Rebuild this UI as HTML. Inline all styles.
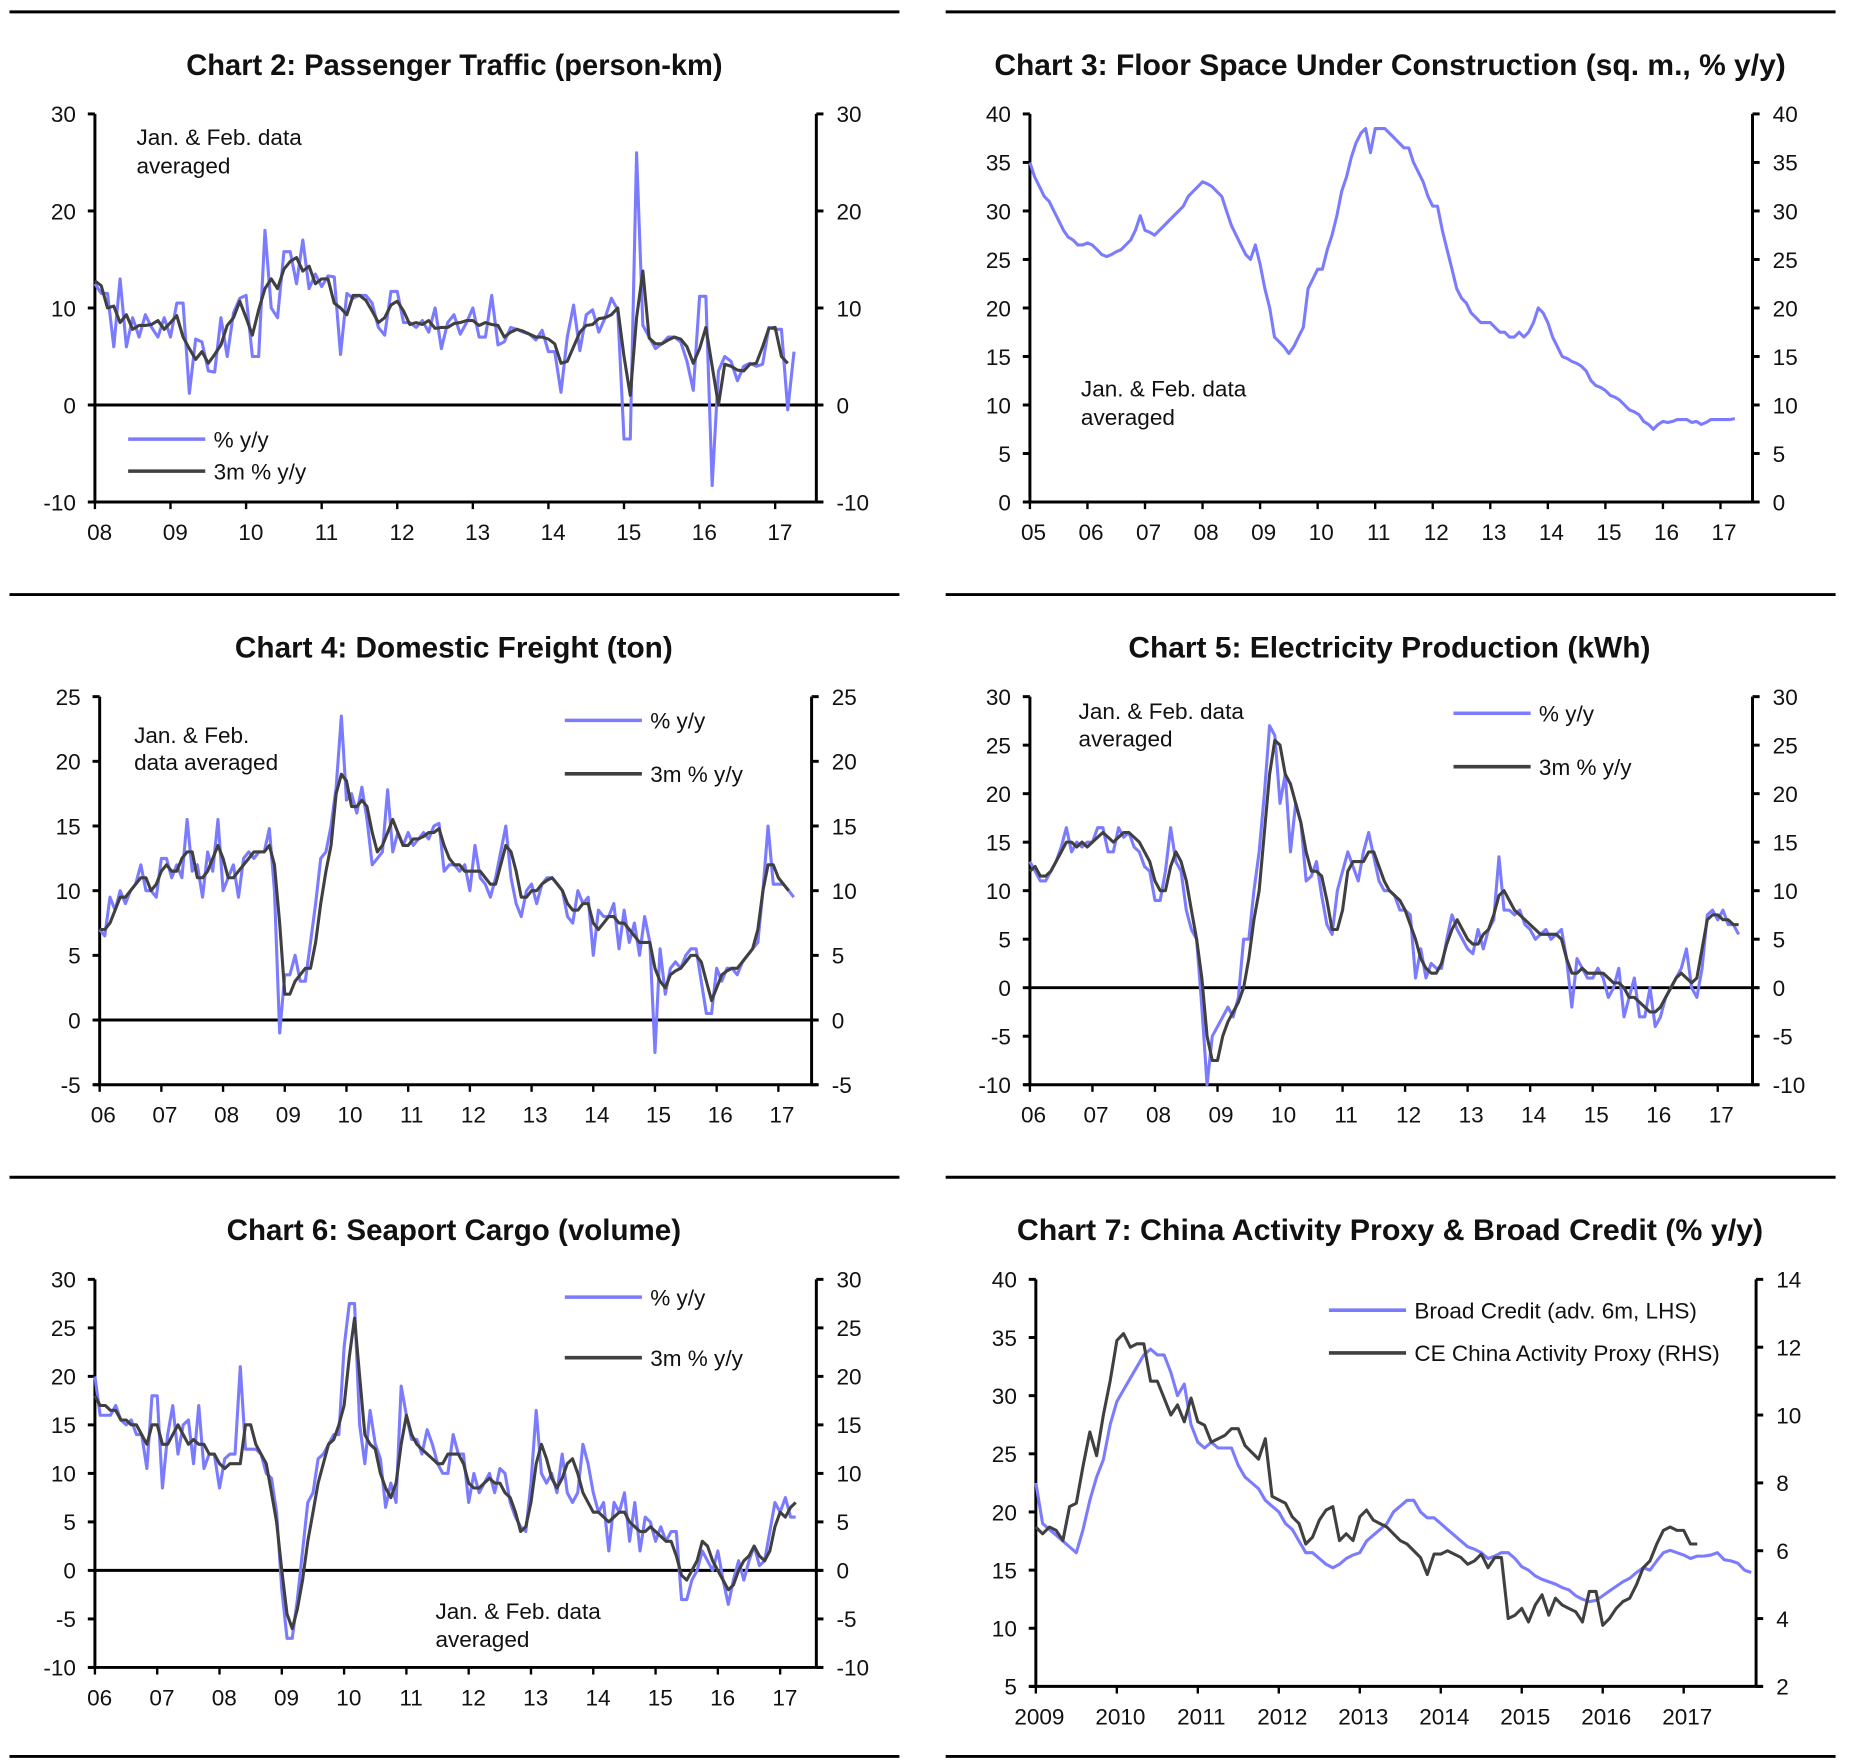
<!DOCTYPE html>
<html><head><meta charset="utf-8"><style>
html,body{margin:0;padding:0;background:#fff;}
svg{display:block;}
text{font-family:"Liberation Sans",sans-serif;fill:#111;}
</style></head><body>
<svg id="root" width="1851" height="1760" viewBox="0 0 1560 1483" preserveAspectRatio="none" xmlns="http://www.w3.org/2000/svg"></svg>
<script>
// ---- Chart 2: Passenger traffic (start 2008-01, monthly)
const c2Yoy=[12.5,11.5,11.5,6,13,6,9,7,9.3,8,7,9, 7,10.5,10.5,1.2,6.8,6.5,3.5,3.4,9,5,9.5,11, 11.3,5,5,18,10,9,15.8,15.8,12.5,17,12,13.5, 12.2,13.3,13.2,5.2,11.5,11,11.3,11.3,10.5,8,7.2,11.7, 11.7,8.5,8.5,8,8.7,7.5,10,5.8,8.5,9.3,7.3,8.5, 10,7,7,11.3,6.2,6.5,8,7.8,7.5,7.3,6.7,7.7, 5.5,5.5,1.3,7,10.3,5.6,9.3,9.8,7.5,9,11,9.8, -3.5,-3.5,26,8.2,7,5.8,6.3,7,7,6.5,4.5,1.5, 11.2,11.2,-8.3,3.5,5,4.5,2.5,4,4.3,4,4.2,8, 7.8,7.8,-0.5,5.5];
const c2ThreeM=[12.8,12.3,10,10.2,8.5,9.3,7.8,8.2,8.2,8.3,8.7,7.8, 8.5,9.2,7,5.8,4.7,5.5,4.3,5.2,6.2,8.2,9,10.7, 9,7.2,9.8,12,13,12,14,14.8,15.2,13.8,14.3,12.5, 13,13,10.5,10,9.3,11.3,11.3,10.8,9.7,8.5,9,10.3, 10.7,9.7,8.3,8.5,8.3,8.7,7.9,8,8,8.4,8.5,8.7, 8.7,8.2,8.5,8.3,8.2,7,7.5,7.8,7.6,7.3,7,7, 6.8,6.3,4.3,4.5,6,7.5,8.2,8.3,8.9,9,9.3,10, 5,1,9,13.8,6.9,6.3,6.3,6.7,7,6.8,6,4.3, 5.8,8,4,0,4.2,4,3.6,3.5,4.2,4.3,6,7.9, 8,5,4.3];
const c2YTicks=[-10,0,10,20,30];
const c2XLabels=["08","09","10","11","12","13","14","15","16","17"];
// ---- Chart 3: Floor space (start 2005-01)
const c3Yoy=[35,33.5,32.5,31.5,31,30,29,28,27.3,27,26.5,26.5, 26.7,26.5,26,25.5,25.3,25.5,25.8,26,26.5,27,28,29.5, 28,27.8,27.5,28,28.5,29,29.5,30,30.5,31.5,32,32.5, 33,32.8,32.5,32,31.5,30,28.5,27.5,26.5,25.5,25,26.5, 24.5,22,20,17,16.5,16,15.3,16,17,18,22,23, 24,24,26,27.5,29.5,32,33.5,35.5,37,38,38.5,36, 38.5,38.5,38.5,38,37.5,37,36.5,36.5,35,34,33,31.5, 30.5,30.5,28,26,24,22,21,20.5,19.5,19,18.5,18.5, 18.5,18,17.5,17.5,17,17,17.5,17,17.5,18.5,20,19.5, 18.5,17,16,15,14.8,14.5,14.3,14,13.5,12.5,12,11.8, 11.5,11,10.8,10.5,10,9.5,9.3,9,8.3,8,7.5,8, 8.3,8.2,8.3,8.5,8.5,8.5,8.2,8.3,8,8.2,8.5,8.5, 8.5,8.5,8.5,8.6];
const c3YTicks=[0,5,10,15,20,25,30,35,40];
const c3XLabels=["05","06","07","08","09","10","11","12","13","14","15","16","17"];
// ---- Chart 4: Domestic freight (start 2006-01)
const c4Yoy=[7,6.5,9.5,8.5,10,9,10,10.5,12,10,10,9.5, 12.5,12.5,11,12,11,15.5,11.5,12,9.5,13,11.5,15.5, 10,11,12,9.5,12.5,13,12.5,13,13,14.8,10,-1, 3.5,3.5,5,3,3,6,9,12.5,13,15,18,23.5, 17,17.5,16,18,15.5,12,12.5,13,17.8,13,14.5,13.5, 14.5,13.5,14,14.5,14,15,15.2,11.5,12,12,11.5,12, 10,13.5,11,10.5,9.5,11,13,15,11,9,8,10, 10.5,9,10.5,11,11,10.5,10,8,7.5,10,9,9.5, 5,8.5,8,8,9,5.5,8.5,6,7.5,5,8,6, -2.5,5.5,2,4,4.5,4,5,5.5,5.5,3,0.5,0.5, 4,3,4,4,3.5,4.5,5,5.5,6,10,15,10.5, 10.5,10.5,10,9.5];
const c4ThreeM=[7,7,7.5,8.5,9.5,9.5,10,10.5,11,11,10,10.5, 11.5,12,11.5,11.5,12.5,13,13,11,11,11.5,12.5,13.5, 12.5,11,11,11.5,12,12.5,13,13,13,13.5,12,7.5, 2,2,3,3.5,4,4,6,9,11.5,13.5,17.5,19, 18.5,16.5,16.5,17,16.5,14.5,13,13.5,14.5,15.5,14.5,13.5, 13.5,14,14,14.2,14.5,14.5,14.8,13.5,12.5,12,12,11.5, 11.5,11.5,11.5,11,10.5,10.5,12,13.5,13,11.5,9.5,9.5, 10,10,10.5,10.8,11,10.5,10,9,8.5,8.5,9,9, 7.5,7,7.5,8,8,7.5,7.5,7,6.5,6,6,6, 4,3,2.5,3.5,3.8,4,4.5,5,5,4.5,3,1.5, 2.5,3.5,3.8,4,4,4.5,5,5.5,7,10,12,12, 11,10.5,10];
const c4YTicks=[-5,0,5,10,15,20,25];
const c4XLabels=["06","07","08","09","10","11","12","13","14","15","16","17"];
// ---- Chart 5: Electricity (start 2006-01)
const c5Yoy=[13,12,11,11,12,13,14.5,16.5,14,15,14.5,15, 15,16.5,16.5,14,14,16.5,15.5,16,14.5,14,12.5,12, 9,9,12,16.5,13,12,8,6,5,-2,-10,-5, -4,-3,-2,-3,-1,5,5,10,14,20,27,26, 19,22,14,19,17,11,11.5,13,9.5,6.5,5.5,10, 12,14,12.5,11,14,16,13.5,11,10,10,9.5,8, 8,7.5,1,4,1,2.5,2,2,5,7.5,6,5, 4,3.5,6,4,6,7,13.5,8,8,7.5,8,6.5, 6,5,5.5,6,5,5.5,6,3,-2,3,2,1, 1,2,1,-1,0,2,-3,-1,1,-3,-3,0, -4,-3,-1,0,1,2,4,0,-1,2,7.5,8, 7,8,6.5,6.5,5.5];
const c5ThreeM=[12,12.5,11.5,11.5,12,13,14,15,15,14.5,15,14.5, 15,15.5,16,15.5,15,15.5,16,16,15.5,15,14,13, 11,10,10,12.5,14,13,11,8,5,1,-5,-7.5, -7.5,-5,-3.5,-2.5,-1.5,0,3,7,10,16,22,25.5, 25,22,21,19,17,14,12,12,11.5,9,6,6, 8,12,13,13,13,14,14,12.5,11,10,9.5,9, 8,6.5,5,3,2,1.5,1.5,2.5,4.5,6,7,6, 5,4.5,4.5,5.5,6,7.5,9.5,10,9,8,7.5,7, 6.5,6,5.5,5.5,5.5,5.5,5,3,1.5,1.5,2,1.5, 1.5,1.5,1.5,1,0.5,0.5,0,-1,-1,-1.5,-2,-2.5, -2.5,-2,-1,0,1,1.5,1,0.5,1,4,7,7.5, 7.5,7,7,6.5,6.5];
const c5YTicks=[-10,-5,0,5,10,15,20,25,30];
const c5XLabels=["06","07","08","09","10","11","12","13","14","15","16","17"];
// ---- Chart 6: Seaport cargo (start 2006-01)
const c6Yoy=[20,16,16,16,17,15.5,15,15.5,14,14,10.5,18, 18,8.5,14,17,12,15,15.5,11,17,10.5,12,12, 8.5,11.5,12,12,21,12.5,12.5,12.5,12,10,9.5,6, -2,-7,-7,-3,2,7,8,11.5,12,13,14,14, 23,27.5,27.5,15,11,16.5,13,11.5,6.5,9,7,19, 16,13.5,13.5,12,14.5,13,11,10,10,14,12,12, 7,10,8,9,10,8,10.5,10,7,5.5,4.5,4, 9,16.5,10,9,10,8,12,8,7,8,13,11, 8,6,7,2,7,6,8,3,7,2,5.5,5, 3,4.5,3,4,4,-3,-3,-1,0,2,1,0, 2,-1,-3.5,-1,1,-1,1,2.5,0.5,1,4,7, 6,7.5,5.5,5.5];
const c6ThreeM=[18,17,17,16.5,16.5,15.5,15.5,15,15,14,13,15, 15,13,13,14,15,14,13,13.5,13,13,12,12, 11,10.5,11,11,11,15,15,13,12,11,8,5, 0,-4.5,-6,-4,-1,3,6,9,11,13,13.5,15, 17,22,26,20,14,13,12.5,10,8.5,7.5,9,13, 16,14,13,12.5,12,11.5,11,11,12,12,12,11, 9,8.5,8.5,9,9.5,9,9,8,7.5,6,4,4.5, 7,11,13,11.5,9.5,8.5,9.5,11,11.5,10,8,7, 6,6,5.5,5,5.5,6,6,5,4.5,4,4,4.5, 4,3.5,3,3,1.5,-0.5,-1,0,1,3,2.5,1, 0,-1,-2,-1.5,0,1,1.5,2.5,1.5,1,2,4.5, 6,5.5,6.5,7];
const c6YTicks=[-10,-5,0,5,10,15,20,25,30];
const c6XLabels=["06","07","08","09","10","11","12","13","14","15","16","17"];
// ---- Chart 7: Broad credit (LHS) & activity proxy (RHS), start 2009-01
const c7Credit=[22.5,19,18.5,18,17.5,17,16.5,18.5,21,23,24.5,27.5, 29.5,30.5,31.5,32.5,33.5,34,33.5,33.5,32,30,31,27.5, 26,25.5,26,25.5,25.5,25.5,24,23,22.5,22,21,20.5, 20,19,18.5,17.5,16.5,16.5,16,15.5,15.2,15.5,16,16.3, 16.5,17.5,18,18.5,19,20,20.5,21,21,20,19.5,19.5, 19,18.5,18,17.5,17,16.8,16.5,16,16.2,16.5,16.5,16, 15.3,15,14.5,14.2,14,13.8,13.5,13.3,12.8,12.5,12.3,12.4, 12.8,13.2,13.6,14,14.3,14.8,15.2,15,15.8,16.5,16.7,16.5, 16.3,16,16.2,16.2,16.3,16.5,15.9,15.8,15.6,15,14.8];
const c7Proxy=[6.7,6.5,6.7,6.6,6.3,7.3,7.4,8.5,9.5,8.8,10,11, 12.2,12.4,12,12.1,12.1,11,11,10.5,10,10.3,9.8,10.5, 9.8,9.7,9.2,9.3,9.4,9.6,9.6,9.1,8.9,8.7,9.3,7.6, 7.5,7.4,7,6.8,6.2,6.4,6.9,7.2,7.3,6.3,6.5,6.3, 7,7.2,6.9,6.8,6.7,6.5,6.3,6.2,6,5.8,5.3,5.9, 5.9,6,5.9,5.8,5.6,5.7,5.9,5.5,5.8,5.8,4,4.1, 4.3,3.9,4.4,4.7,4.1,4.6,4.4,4.3,4.2,3.9,4.8,4.8, 3.8,4,4.3,4.5,4.6,5,5.5,5.7,6.2,6.6,6.7,6.6, 6.6,6.2,6.2];
const c7YTicksL=[5,10,15,20,25,30,35,40];
const c7YTicksR=[2,4,6,8,10,12,14];
const c7XLabels=["2009","2010","2011","2012","2013","2014","2015","2016","2017"];
</script>
<script>
const NS="http://www.w3.org/2000/svg";
const root=document.getElementById('root');
const BLUE="#7b7bff", GRAY="#404040";
function mk(tag,attrs,parent){const e=document.createElementNS(NS,tag);for(const k in attrs)e.setAttribute(k,attrs[k]);(parent||root).appendChild(e);return e;}
function txt(s,attrs,parent){const t=mk('text',attrs,parent);t.textContent=s;return t;}

function drawChart(cfg){
  const g=mk('g',{});
  
  
  const ys=v=>cfg.yTop+(cfg.yMax-v)/(cfg.yMax-cfg.yMin)*(cfg.yBot-cfg.yTop);
  const ys2=cfg.r?(v=>cfg.yTop+(cfg.r.max-v)/(cfg.r.max-cfg.r.min)*(cfg.yBot-cfg.yTop)):ys;
  const xs=m=>cfg.x0+m/12*cfg.yr;
  const t=txt(cfg.title,{x:cfg.titleX,y:cfg.titleY,'font-size':25,'font-weight':'bold','text-anchor':'start',textLength:cfg.titleW,lengthAdjust:'spacingAndGlyphs'},g);
  
  
  // axes
  const la=mk('line',{x1:cfg.x0,y1:cfg.yTop,x2:cfg.x0,y2:cfg.yBot,stroke:'#000','stroke-width':2.5},g);
  
  
  const ra=mk('line',{x1:cfg.x1,y1:cfg.yTop,x2:cfg.x1,y2:cfg.yBot,stroke:'#000','stroke-width':2.5},g);
  
  
  const xa=mk('line',{x1:cfg.x0-5,y1:cfg.yBot,x2:cfg.x1+5,y2:cfg.yBot,stroke:'#000','stroke-width':2.5},g);
  
  
  cfg.yTicks.forEach(v=>{
    const y=ys(v);
    mk('line',{x1:cfg.x0-6,y1:y,x2:cfg.x0,y2:y,stroke:'#000','stroke-width':2.5},g);
    const l=txt(String(v),{x:cfg.x0-16,y:y+7,'font-size':19,'text-anchor':'end'},g);
    
    
  });
  (cfg.r?cfg.r.ticks:cfg.yTicks).forEach(v=>{
    const y=ys2(v);
    mk('line',{x1:cfg.x1,y1:y,x2:cfg.x1+6,y2:y,stroke:'#000','stroke-width':2.5},g);
    const l=txt(String(v),{x:cfg.x1+17,y:y+7,'font-size':19,'text-anchor':'start'},g);
    
    
  });
  cfg.xLabels.forEach((s,i)=>{
    const x=cfg.x0+i*cfg.yr;
    mk('line',{x1:x,y1:cfg.yBot,x2:x,y2:cfg.yBot+6,stroke:'#000','stroke-width':2},g);
    const l=txt(s,{x:x+cfg.lblOff,y:cfg.yBot+32,'font-size':19,'text-anchor':'middle'},g);
    
    
  });
  if(cfg.zero){
    const z=mk('line',{x1:cfg.x0,y1:ys(0),x2:cfg.x1+5,y2:ys(0),stroke:'#000','stroke-width':2.5},g);
    
    
  }
  cfg.series.forEach(s=>{
    const f=s.right?ys2:ys;
    const d=s.data.map((v,i)=>(i?'L':'M')+xs(i).toFixed(1)+','+f(v).toFixed(1)).join('');
    const p=mk('path',{d:d,fill:'none',stroke:s.color,'stroke-width':2.6,'stroke-linejoin':'round'},g);
    
    
  });
  (cfg.legend||[]).forEach(L=>{
    const lg=mk('g',{},g);
    
    
    mk('line',{x1:L.x,y1:L.y,x2:L.x+65,y2:L.y,stroke:L.color,'stroke-width':3},lg);
    txt(L.label,{x:L.x+72,y:L.y+7,'font-size':19},lg);
  });
  (cfg.notes||[]).forEach(N=>{
    const n=txt(N.s,{x:N.x,y:N.y,'font-size':19},g);
    
    
  });
}

// separators
[[10,8,758],[10,797,1547],[501,8,758],[501,797,1547],[992,8,758],[992,797,1547],[1480,8,758],[1480,797,1547]].forEach(a=>{
  const l=mk('line',{x1:a[1],y1:a[0],x2:a[2],y2:a[0],stroke:'#000','stroke-width':2.5});
  
  
});

drawChart({name:'chart2-passenger-traffic',title:'Chart 2: Passenger Traffic (person-km)',titleX:157,titleY:63,titleW:452,
  x0:80,x1:688,yTop:96,yBot:423,yMin:-10,yMax:30,yr:63.7,lblOff:4,yTicks:c2YTicks,xLabels:c2XLabels,zero:true,
  series:[{name:'series-yoy',data:c2Yoy,color:BLUE},{name:'series-3m-yoy',data:c2ThreeM,color:GRAY}],
  legend:[{x:108,y:370,color:BLUE,label:'% y/y'},{x:108,y:397,color:GRAY,label:'3m % y/y'}],
  notes:[{s:'Jan. & Feb. data',x:115,y:122},{s:'averaged',x:115,y:146}]});
drawChart({name:'chart3-floor-space',title:'Chart 3: Floor Space Under Construction (sq. m., % y/y)',titleX:838,titleY:63,titleW:667,
  x0:868,x1:1477,yTop:96,yBot:423,yMin:0,yMax:40,yr:48.5,lblOff:3,yTicks:c3YTicks,xLabels:c3XLabels,zero:false,
  series:[{name:'series-yoy',data:c3Yoy,color:BLUE}],
  notes:[{s:'Jan. & Feb. data',x:911,y:334},{s:'averaged',x:911,y:358}]});
drawChart({name:'chart4-domestic-freight',title:'Chart 4: Domestic Freight (ton)',titleX:198,titleY:554,titleW:369,
  x0:84,x1:684,yTop:587,yBot:914,yMin:-5,yMax:25,yr:52,lblOff:3,yTicks:c4YTicks,xLabels:c4XLabels,zero:true,
  series:[{name:'series-yoy',data:c4Yoy,color:BLUE},{name:'series-3m-yoy',data:c4ThreeM,color:GRAY}],
  legend:[{x:476,y:607,color:BLUE,label:'% y/y'},{x:476,y:652,color:GRAY,label:'3m % y/y'}],
  notes:[{s:'Jan. & Feb.',x:113,y:626},{s:'data averaged',x:113,y:649}]});
drawChart({name:'chart5-electricity',title:'Chart 5: Electricity Production (kWh)',titleX:951,titleY:554,titleW:440,
  x0:868,x1:1477,yTop:587,yBot:914,yMin:-10,yMax:30,yr:52.7,lblOff:3,yTicks:c5YTicks,xLabels:c5XLabels,zero:true,
  series:[{name:'series-yoy',data:c5Yoy,color:BLUE},{name:'series-3m-yoy',data:c5ThreeM,color:GRAY}],
  legend:[{x:1225,y:601,color:BLUE,label:'% y/y'},{x:1225,y:646,color:GRAY,label:'3m % y/y'}],
  notes:[{s:'Jan. & Feb. data',x:909,y:606},{s:'averaged',x:909,y:629}]});
drawChart({name:'chart6-seaport-cargo',title:'Chart 6: Seaport Cargo (volume)',titleX:191,titleY:1045,titleW:383,
  x0:80,x1:688,yTop:1078,yBot:1405,yMin:-10,yMax:30,yr:52.5,lblOff:4,yTicks:c6YTicks,xLabels:c6XLabels,zero:true,
  series:[{name:'series-yoy',data:c6Yoy,color:BLUE},{name:'series-3m-yoy',data:c6ThreeM,color:GRAY}],
  legend:[{x:476,y:1093,color:BLUE,label:'% y/y'},{x:476,y:1144,color:GRAY,label:'3m % y/y'}],
  notes:[{s:'Jan. & Feb. data',x:367,y:1364},{s:'averaged',x:367,y:1388}]});
drawChart({name:'chart7-activity-credit',title:'Chart 7: China Activity Proxy & Broad Credit (% y/y)',titleX:857,titleY:1045,titleW:629,
  x0:873,x1:1480,yTop:1078,yBot:1421,yMin:5,yMax:40,yr:68.25,lblOff:3,yTicks:c7YTicksL,xLabels:c7XLabels,zero:false,
  r:{min:2,max:14,ticks:c7YTicksR},
  series:[{name:'series-broad-credit',data:c7Credit,color:BLUE},{name:'series-activity-proxy',data:c7Proxy,color:GRAY,right:true}],
  legend:[{x:1120,y:1104,color:BLUE,label:'Broad Credit (adv. 6m, LHS)'},{x:1120,y:1140,color:GRAY,label:'CE China Activity Proxy (RHS)'}]});
</script>
</body></html>
